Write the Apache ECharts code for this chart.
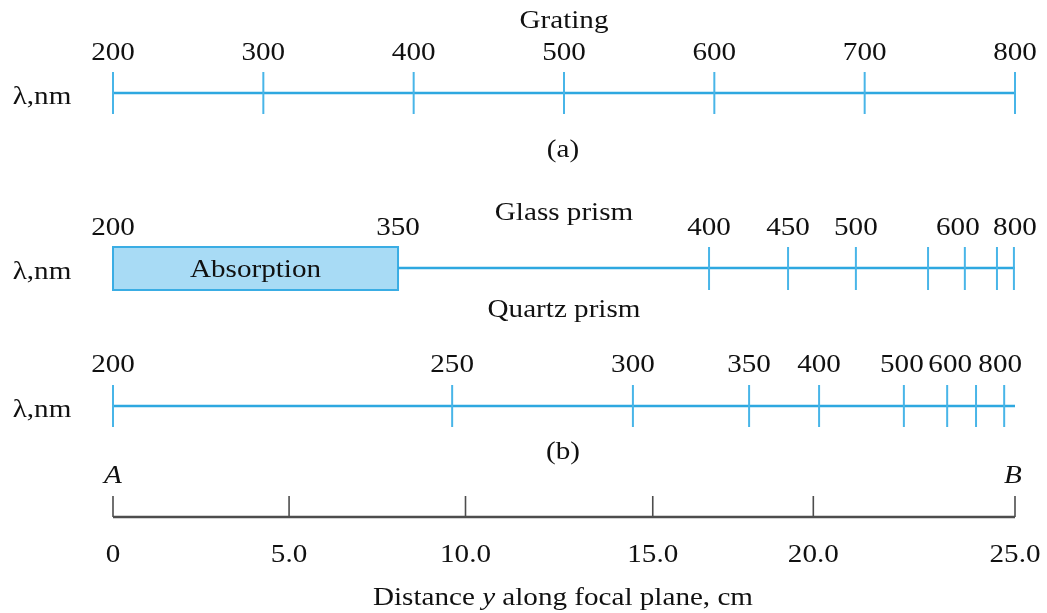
<!DOCTYPE html>
<html><head><meta charset="utf-8">
<script src="https://cdn.jsdelivr.net/npm/echarts@6/dist/echarts.min.js"></script>
<style>html,body{margin:0;padding:0;background:#fff}#c{width:1047px;height:613px}</style>
</head><body><div id="c"></div>
<script>
// ---------------- data ----------------
const gratingWavelengths = [200, 300, 400, 500, 600, 700, 800];          // nm, linear scale
const glassWavelengths   = [200, 350, 400, 450, 500, 550, 600, 700, 800]; // nm
const glassPositionsCm   = [0, 7.9, 16.52, 18.71, 20.59, 22.59, 23.61, 24.50, 24.97];
const glassLabeled       = [200, 350, 400, 450, 500, 600, 800];
const glassAbsorptionNm  = [200, 350];
const quartzWavelengths  = [200, 250, 300, 350, 400, 500, 600, 700, 800]; // nm
const quartzPositionsCm  = [0, 9.40, 14.41, 17.63, 19.57, 21.92, 23.12, 23.92, 24.70];
const quartzLabeled      = [200, 250, 300, 350, 400, 500, 600, 800];
const distanceTickCm     = [0, 4.88, 9.77, 14.96, 19.41, 25];
const distanceTickLabels = ['0', '5.0', '10.0', '15.0', '20.0', '25.0'];
const focalPlaneCm       = [0, 25];

// ---------------- styles ----------------
const FONT_FAMILY = '"Liberation Serif", "Times New Roman", serif';
const FONT = '26px ' + FONT_FAMILY;
const SX = 1.12;
const TEXT = '#111111';
const BLUE = '#2ea8e0';
const BLUE_TICK = '#48b5e8';
const DARK = '#4d4d4d';
const ROWS = { grating: 93, glass: 268, quartz: 406, dist: 517 };
const labelNudge = { glass: { 600: -7, 800: 1 }, quartz: { 500: -2, 600: 3, 800: -4 } };

const posOf = (wl, wls, pos) => pos[wls.indexOf(wl)];

function textEl(x, y, text, italic) {
  return {
    type: 'text', x: x, y: y, scaleX: SX,
    style: { text: text, font: (italic ? 'italic ' : '') + FONT, fill: TEXT,
             align: 'center', verticalAlign: 'middle',
             textAlign: 'center', textVerticalAlign: 'middle' }
  };
}

function baselineSeries(gi, range, color, width) {
  return { type: 'custom', xAxisIndex: gi, yAxisIndex: gi, silent: true,
    data: [range],
    renderItem: (p, api) => {
      const a = api.coord([api.value(0), 0]), b = api.coord([api.value(1), 0]);
      return { type: 'line', shape: { x1: a[0], y1: a[1], x2: b[0], y2: b[1] },
               style: { stroke: color, lineWidth: width } };
    } };
}
function tickSeries(gi, values, up, down, color, width) {
  return { type: 'custom', xAxisIndex: gi, yAxisIndex: gi, silent: true,
    data: values.map(v => [v]),
    renderItem: (p, api) => {
      const c = api.coord([api.value(0), 0]);
      return { type: 'line', shape: { x1: c[0], y1: c[1] - up, x2: c[0], y2: c[1] + down },
               style: { stroke: color, lineWidth: width } };
    } };
}
function labelSeries(gi, items, dy, nudge) {
  return { type: 'custom', xAxisIndex: gi, yAxisIndex: gi, silent: true,
    data: items,
    renderItem: (p, api) => {
      const c = api.coord([api.value(0), 0]);
      const lab = items[p.dataIndex][1];
      const dx = (nudge && nudge[lab]) || 0;
      return textEl(c[0] + dx, c[1] + dy, String(lab));
    } };
}

const grids = [ROWS.grating, ROWS.glass, ROWS.quartz, ROWS.dist].map(y => ({
  left: 113, right: 32, top: y - 20, height: 40 }));
const xAxes = [
  { gridIndex: 0, type: 'value', min: gratingWavelengths[0], max: gratingWavelengths[gratingWavelengths.length - 1], show: false },
  { gridIndex: 1, type: 'value', min: focalPlaneCm[0], max: focalPlaneCm[1], show: false },
  { gridIndex: 2, type: 'value', min: focalPlaneCm[0], max: focalPlaneCm[1], show: false },
  { gridIndex: 3, type: 'value', min: focalPlaneCm[0], max: focalPlaneCm[1], show: false }
];
const yAxes = [0, 1, 2, 3].map(i => ({ gridIndex: i, type: 'value', min: -1, max: 1, show: false }));

const absStart = posOf(glassAbsorptionNm[0], glassWavelengths, glassPositionsCm);
const absEnd = posOf(glassAbsorptionNm[1], glassWavelengths, glassPositionsCm);

const series = [
  // (a) grating
  baselineSeries(0, [gratingWavelengths[0], gratingWavelengths[gratingWavelengths.length - 1]], BLUE, 2.5),
  tickSeries(0, gratingWavelengths, 21, 21, BLUE_TICK, 2),
  labelSeries(0, gratingWavelengths.map(w => [w, w]), -40),
  // glass prism
  { type: 'custom', xAxisIndex: 1, yAxisIndex: 1, silent: true,
    data: [[absStart, absEnd]],
    renderItem: (p, api) => {
      const a = api.coord([api.value(0), 0]), b = api.coord([api.value(1), 0]);
      return { type: 'group', children: [
        { type: 'rect', shape: { x: a[0], y: a[1] - 21, width: b[0] - a[0], height: 43 },
          style: { fill: '#a8dbf5', stroke: '#3aade4', lineWidth: 2 } },
        textEl((a[0] + b[0]) / 2, a[1] + 2, 'Absorption')
      ] };
    } },
  baselineSeries(1, [absEnd, focalPlaneCm[1]], BLUE, 2.5),
  tickSeries(1, glassPositionsCm.filter((_, i) => glassWavelengths[i] > glassAbsorptionNm[1]), 21, 22, BLUE_TICK, 2),
  labelSeries(1, glassWavelengths.map((w, i) => [glassPositionsCm[i], w]).filter(d => glassLabeled.includes(d[1])), -40, labelNudge.glass),
  // quartz prism
  baselineSeries(2, focalPlaneCm, BLUE, 2.5),
  tickSeries(2, quartzPositionsCm, 21, 21, BLUE_TICK, 2),
  labelSeries(2, quartzWavelengths.map((w, i) => [quartzPositionsCm[i], w]).filter(d => quartzLabeled.includes(d[1])), -41, labelNudge.quartz),
  // distance along focal plane
  baselineSeries(3, focalPlaneCm, DARK, 2.5),
  tickSeries(3, distanceTickCm, 21, 0, DARK, 1.6),
  labelSeries(3, distanceTickCm.map((v, i) => [v, distanceTickLabels[i]]), 38)
];

const graphic = [
  textEl(564, 21, 'Grating'),
  textEl(563, 150, '(a)'),
  textEl(564, 213, 'Glass prism'),
  textEl(564, 310, 'Quartz prism'),
  textEl(563, 452, '(b)'),
  textEl(42, ROWS.grating + 4, 'λ,nm'),
  textEl(42, ROWS.glass + 4, 'λ,nm'),
  textEl(42, ROWS.quartz + 4, 'λ,nm'),
  textEl(113, 476, 'A', true),
  textEl(1013, 476, 'B', true),
  { type: 'text', x: 563, y: 598, scaleX: SX,
    style: { text: '{n|Distance }{i|y}{n| along focal plane, cm}', fill: TEXT,
             align: 'center', verticalAlign: 'middle', textAlign: 'center', textVerticalAlign: 'middle',
             rich: { n: { font: FONT, fill: TEXT }, i: { font: 'italic ' + FONT, fill: TEXT } } } }
];

const chart = echarts.init(document.getElementById('c'), null, { renderer: 'canvas' });
chart.setOption({
  animation: false,
  backgroundColor: '#ffffff',
  grid: grids, xAxis: xAxes, yAxis: yAxes,
  series: series,
  graphic: graphic
});
</script>
</body></html>
